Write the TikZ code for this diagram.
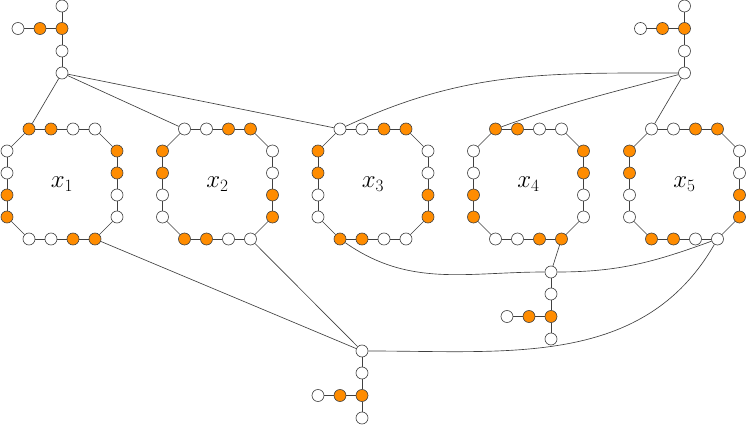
\documentclass[tikz,border=0pt]{standalone}
\definecolor{vorange}{HTML}{FF8C00}
\tikzset{
  vtx/.style={circle, draw=black!75, fill=white, line width=0.65pt, inner sep=0pt, minimum size=12pt},
  vo/.style={vtx, fill=vorange},
  edge/.style={draw=black!75, line width=0.65pt},
  lbl/.style={font=\fontsize{23}{27}\selectfont}
}
% #1 name, #2 cx, #3 cy, #4 shift (0 or 2), #5 label
\newcommand\mygadget[5]{%
  \foreach \i/\dx/\dy in {1/-33/55, 2/-11/55, 3/11/55, 4/33/55,
                          5/55/33, 6/55/11, 7/55/-11, 8/55/-33,
                          9/33/-55, 10/11/-55, 11/-11/-55, 12/-33/-55,
                          13/-55/-33, 14/-55/-11, 15/-55/11, 16/-55/33}{%
    \pgfmathtruncatemacro\m{mod(\i-1+#4,4)}%
    \ifnum\m<2 \def\st{vo}\else\def\st{vtx}\fi
    \node[\st] (#1-\i) at (#2+\dx,#3+\dy) {};
  }
  \foreach \i [evaluate=\i as \j using {int(mod(\i,16)+1)}] in {1,...,16}{%
    \draw[edge] (#1-\i) -- (#1-\j);
  }
  \node[lbl] (#1-lab) at (#2,#3) {$#5$};
}
% #1 name, #2 hx, #3 hy, #4 direction (+1 up, -1 down)
\newcommand\myclause[4]{%
  \node[vtx] (#1-h) at (#2,#3) {};
  \node[vtx] (#1-a) at (#2,#3+#4*22) {};
  \node[vo]  (#1-b) at (#2,#3+#4*44.5) {};
  \node[vtx] (#1-c) at (#2,#3+#4*67) {};
  \node[vo]  (#1-d) at (#2-22,#3+#4*44.5) {};
  \node[vtx] (#1-e) at (#2-44,#3+#4*44.5) {};
  \draw[edge] (#1-h) -- (#1-a) -- (#1-b) -- (#1-c);
  \draw[edge] (#1-b) -- (#1-d) -- (#1-e);
}
\begin{document}
\begin{tikzpicture}[x=1pt,y=1pt]
  \useasboundingbox (0,0) rectangle (747,424);
  \mygadget{g1}{62}{240}{0}{x_1}
  \mygadget{g2}{217.5}{240}{2}{x_2}
  \mygadget{g3}{373}{240}{2}{x_3}
  \mygadget{g4}{528.5}{240}{0}{x_4}
  \mygadget{g5}{684.5}{240}{2}{x_5}

  \myclause{c1}{62}{351}{1}
  \myclause{c2}{684.5}{351}{1}
  \myclause{c3}{551}{152}{-1}
  \myclause{c4}{362}{73}{-1}

  % clause 1
  \draw[edge] (c1-h) -- (g1-1);
  \draw[edge] (c1-h) -- (g2-1);
  \draw[edge] (c1-h) -- (g3-1);
  % clause 2
  \draw[edge] (c2-h) to[out=180, in=25] (g3-1);
  \draw[edge] (c2-h) to[out=195, in=20] (g4-1);
  \draw[edge] (c2-h) -- (g5-1);
  % clause 3
  \draw[edge] (c3-h) -- (g4-9);
  \draw[edge] (c3-h) to[out=180, in=-35] (g3-12);
  \draw[edge] (c3-h) to[out=0, in=200] (g5-9);
  % clause 4
  \draw[edge] (c4-h) -- (g1-9);
  \draw[edge] (c4-h) -- (g2-9);
  \draw[edge] (c4-h) to[out=0, in=240] (g5-9);
\end{tikzpicture}
\end{document}
